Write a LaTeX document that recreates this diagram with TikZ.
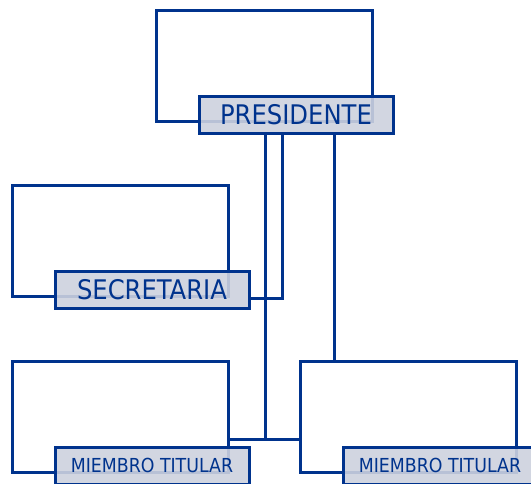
\documentclass[tikz,border=0pt]{standalone}
\usepackage{fontspec}
\usepackage{tikz}
\usetikzlibrary{positioning,calc}
\newfontfamily\dvcond{DejaVu Sans Condensed}
\definecolor{navy}{RGB}{0,51,141}
\definecolor{tagfill}{RGB}{205,209,222}

\begin{document}
\begin{tikzpicture}[
	x=1pt, y=-1pt,
	frame/.style={
		draw=navy,
		line width=3pt,
		minimum width=216pt,
		minimum height=111pt,
		inner sep=0pt
		},
	tag/.style={
		draw=navy,
		fill=tagfill,
		fill opacity=0.9,
		text opacity=1,
		line width=3pt,
		minimum width=194pt,
		minimum height=37pt,
		inner sep=0pt,
		text=navy,
		font=\dvcond\fontsize{27}{31}\selectfont
		},
	small/.style={
		font=\dvcond\fontsize{19.3}{23}\selectfont
	},
	link/.style={draw=navy, line width=3pt}
]
\useasboundingbox (0,0) rectangle (531,483);

% Frames
\node [frame] (Presidente box) at (264,65.5) {};
\node [frame] (Secretaria box) at (120,240.5) {};
\node [frame] (Miembro1 box) at (120,416.5) {};
\node [frame] (Miembro2 box) at (408,416.5) {};

% Tags
\node [tag] (Presidente) at (296,114.5) {PRESIDENTE};
\node [tag] (Secretaria) at (152,290) {SECRETARIA};
\node [tag, small] (Miembro1) at (152,465.5) {MIEMBRO TITULAR};
\node [tag, small] (Miembro2) at (440,465.5) {MIEMBRO TITULAR};

% Links
\coordinate (Junction) at (265,439);
\draw [link] ([xshift=-14pt]Presidente.south) |- ([yshift=-8pt]Secretaria.east);
\draw [link] ([xshift=-31pt]Presidente.south) -- (Junction);
\draw [link] ([yshift=-22.5pt]Miembro1 box.east) -- ([yshift=-22.5pt]Miembro2 box.west);
\draw [link] ([xshift=38pt]Presidente.south) -- ([xshift=38pt]Presidente.south |- Miembro2 box.north);

\end{tikzpicture}
\end{document}
